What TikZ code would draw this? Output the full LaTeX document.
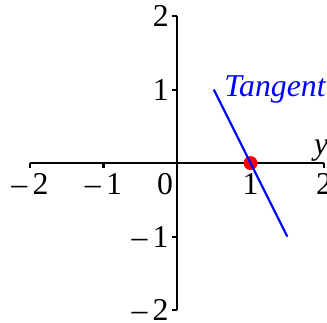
\documentclass[tikz,border=0pt]{standalone}
\usepackage{fontspec}
\setmainfont{Liberation Serif}
\usepackage{tikz}
\usetikzlibrary{positioning}

\begin{document}
\begin{tikzpicture}[x=1cm, y=1cm, line width=0.8pt, font=\fontsize{12.3}{14}\selectfont]
		% Cadre de l'image
		\clip (-2.408,-2.163) rectangle (2.04,2.218);
		\useasboundingbox (-2.408,-2.163) rectangle (2.04,2.218);
		
		% Styles
		\tikzstyle{xlab}=[anchor=north, inner sep=0pt]
		\tikzstyle{ylab}=[anchor=east, inner sep=0pt]
		\tikzstyle{tangente}=[draw=blue, line width=0.8pt]
		
		%--- Extrémités des axes ---
		\coordinate (XG) at (-2,0);
		\coordinate (XD) at (2,0);
		\coordinate (YB) at (0,-2);
		\coordinate (YH) at (0,2);
		
		%--- Axes ---
		\draw (XG) -- (XD);
		\draw (YB) -- (YH);
		
		%--- Graduations axe horizontal ---
		\draw (-2,0) -- ++(0,-0.07);
		\draw (-1,0) -- ++(0,-0.07);
		\draw ( 1,0) -- ++(0,-0.07);
		\draw ( 2,0) -- ++(0,-0.07);
		
		%--- Graduations axe vertical ---
		\draw (0, 2) -- ++(-0.07,0);
		\draw (0, 1) -- ++(-0.07,0);
		\draw (0,-1) -- ++(-0.07,0);
		\draw (0,-2) -- ++(-0.07,0);
		
		%--- Valeurs ---
		\node[xlab] (Xm2) at (-2,-0.13) {–\,2};
		\node[xlab] (Xm1) at (-1,-0.13) {–\,1};
		\node[xlab] (X1)  at ( 1,-0.13) {1};
		\node[xlab] (X2)  at ( 2,-0.13) {2};
		\node[anchor=north east, inner sep=0pt] (O) at (-0.04,-0.13) {0};
		\node[ylab] (Y2)  at (-0.1, 2) {2};
		\node[ylab] (Y1)  at (-0.1, 1) {1};
		\node[ylab] (Ym1) at (-0.1,-1) {–\,1};
		\node[ylab] (Ym2) at (-0.1,-2) {–\,2};
		\node[inner sep=0pt] (ylabel) at (1.96,0.17) {\itshape y};
		
		%--- Point de contact ---
		\fill[red] (1,0) circle (0.095);
		
		%--- Tangente ---
		\coordinate (T1) at (0.5,1);
		\coordinate (T2) at (1.5,-1);
		\draw[tangente] (T1) -- (T2);
		\node[anchor=west, inner sep=0pt, text=blue] (tlabel) at (0.63,1.0) {\itshape Tangent};
	\end{tikzpicture}
\end{document}
